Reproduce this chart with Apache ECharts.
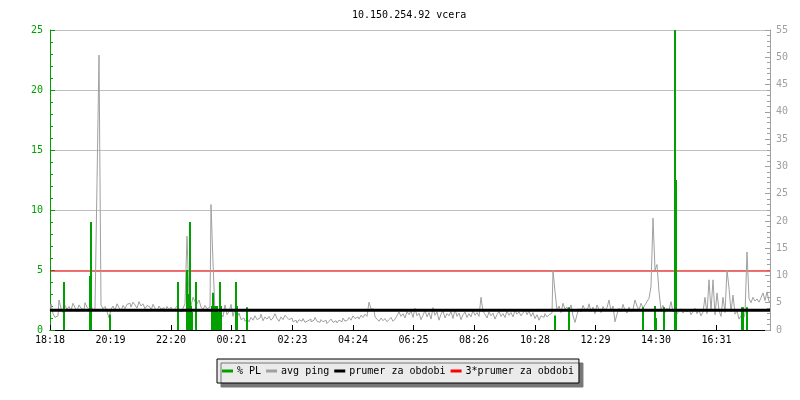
<!DOCTYPE html>
<html>
<head>
<meta charset="utf-8">
<script src="https://cdn.jsdelivr.net/npm/echarts@6/dist/echarts.min.js"></script>
<style>html,body{margin:0;padding:0;background:#fff}#c{width:800px;height:400px}</style>
</head>
<body>
<div id="c"></div>
<script>
// ---- data ----
var titleText = '10.150.254.92 vcera';
var startTime = '18:18';
var spanMinutes = 1440;
var tickLabels = ['18:18','20:19','22:20','00:21','02:23','04:24','06:25','08:26','10:28','12:29','14:30','16:31'];
// avg ping (ms, right axis), one sample every 4 minutes from 18:18
var pingStep = 4;
var pingValues = [
3.5,4.8,3.0,2.3,2.6,5.5,4.0,3.2,4.5,3.8,
4.3,3.6,4.9,4.1,3.4,4.6,4.0,3.7,5.0,4.2,
3.8,4.5,3.5,4.0,27,50.4,4.6,3.9,4.3,3.4,
2.2,3.8,4.4,3.6,4.8,4.1,3.5,4.5,3.9,4.7,
4.9,4.2,5.1,4.6,4.0,5.2,4.4,4.8,3.9,4.5,
4.2,3.6,4.7,4.0,3.5,4.4,3.8,4.1,3.4,4.3,
3.7,4.2,3.5,3.9,4.4,3.6,3.3,4.0,4.8,17.2,
5.5,4.4,6.0,5.2,4.8,5.5,4.2,3.8,4.5,3.9,
4.2,23.0,12.3,3.2,2.6,2.2,3.0,2.4,4.6,2.8,
3.4,4.7,2.5,3.9,2.3,3.1,1.9,2.2,1.6,2.0,
1.5,2.3,1.8,2.6,1.9,2.2,2.9,1.7,2.4,2.0,
2.5,1.8,2.2,3.0,2.1,1.6,2.4,1.9,2.7,2.3,
1.9,2.2,1.5,1.8,1.3,1.9,1.6,2.1,1.4,1.7,
2.0,1.5,1.8,2.3,1.6,1.4,1.9,1.5,1.8,1.2,
1.6,2.0,1.4,1.7,1.3,1.8,1.5,2.2,1.6,1.9,
2.3,1.8,2.6,2.1,2.4,2.0,2.7,2.3,2.9,2.5,
5.1,3.9,3.8,2.4,2.0,1.6,2.2,1.7,2.1,1.5,
1.9,2.3,1.6,2.0,2.6,3.3,2.5,3.0,2.2,3.4,
2.8,3.5,2.3,4.0,2.6,3.1,1.9,2.7,3.6,2.4,
3.2,2.0,4.1,2.7,3.3,1.8,2.9,3.5,2.2,3.0,
2.6,3.4,2.1,3.8,2.5,3.1,1.9,2.8,3.3,2.3,
3.0,2.4,3.6,2.7,3.2,2.5,6.0,3.4,2.9,2.2,
3.3,2.6,3.1,2.0,2.8,3.4,2.5,3.0,2.3,3.5,
2.7,3.2,2.4,3.6,2.9,3.3,2.6,3.1,3.8,2.8,
3.5,2.5,3.2,2.1,2.8,1.8,2.6,2.3,3.0,2.4,
2.8,3.1,11.0,7.0,3.6,4.4,3.2,4.9,3.8,4.2,
3.5,4.6,2.6,1.4,2.8,3.9,3.3,4.5,3.7,4.0,
4.8,3.4,4.2,3.0,4.6,3.8,3.2,4.3,3.6,4.1,
5.5,3.5,4.4,1.5,2.9,4.0,3.3,4.7,3.6,3.1,
4.2,3.4,3.8,5.5,4.4,3.6,4.9,4.0,4.6,5.2,
5.8,8.0,20.5,11.0,12.0,7.0,3.8,4.5,3.2,4.0,
3.6,5.2,3.3,4.0,2.9,3.5,3.9,3.1,3.7,3.3,
3.8,2.8,3.4,4.0,3.0,3.6,2.6,3.3,6.0,3.0,
9.2,3.5,9.2,2.8,6.8,3.6,2.5,6.0,3.2,11.0,
7.7,3.4,6.4,2.9,3.5,2.0,2.6,1.8,3.0,14.3,
5.8,5.0,6.0,5.3,5.7,5.1,5.9,6.8,5.4,7.0,5.2
];
// % packet loss (left axis): minutes after 18:18 and value
var plMinutes = [28,80,82,120,256,274,276,278,280,282,284,292,324,326,328,330,332,334,336,340,342,372,374,394,1010,1038,1186,1210,1212,1228,1250,1252,1384,1386,1394];
var plValues  = [4.0,4.5,9.0,1.3,4.0,5.0,2.0,3.0,9.0,2.0,1.5,4.0,2.0,3.1,2.0,1.5,2.0,2.0,1.5,4.0,2.0,4.0,2.0,1.9,1.2,1.9,1.9,2.0,1.0,1.9,25,12.5,1.9,1.9,1.9];
var prumer = 3.6;
var prumer3 = 10.8;
var seriesNames = ['% PL','avg ping','prumer za obdobi','3*prumer za obdobi'];
var seriesColors = ['#00a000','#a0a0a0','#000000','#ff0000'];

// ---- build ----
function toMin(t){var p=t.split(':');return +p[0]*60+ +p[1];}
var s0 = toMin(startTime);
var tickPos = tickLabels.map(function(t){var d=toMin(t)-s0; if(d<0)d+=1440; return d;});
var pingData = pingValues.map(function(v,i){return [i*pingStep, v];});
var plData = plMinutes.map(function(m,i){return [m, plValues[i]];});
var font = 'DejaVu Sans Mono';

var chart = echarts.init(document.getElementById('c'), null, {renderer:'canvas'});
chart.setOption({
  animation:false,
  backgroundColor:'#ffffff',
  title:{text:titleText,left:347,top:5,textStyle:{fontFamily:font,fontSize:10,fontWeight:'normal',color:'#000'}},
  legend:{
    left:217, top:359, orient:'horizontal',
    padding:[7,5,7,5], itemGap:5, itemWidth:11, itemHeight:3,
    backgroundColor:'#ebebeb', borderColor:'#000', borderWidth:1,
    shadowColor:'#777777', shadowBlur:0, shadowOffsetX:4, shadowOffsetY:4,
    textStyle:{fontFamily:font,fontSize:10,color:'#000',padding:[0,0,0,-1]},
    data:seriesNames.map(function(n){return {name:n,icon:'rect'};})
  },
  grid:{left:50,right:30,top:30,bottom:70,containLabel:false},
  xAxis:{
    type:'value', min:0, max:spanMinutes,
    axisLine:{show:true,lineStyle:{color:'#000',width:1}},
    axisTick:{show:true,inside:true,length:5,lineStyle:{color:'#000'},customValues:tickPos},
    axisLabel:{show:true,color:'#000',fontFamily:font,fontSize:10,margin:5,customValues:tickPos,
      formatter:function(v){var i=tickPos.indexOf(v);return i>=0?tickLabels[i]:'';}},
    splitLine:{show:false}
  },
  yAxis:[
    {type:'value',min:0,max:25,interval:5,position:'left',
     axisLine:{show:true,lineStyle:{color:'#00a000'}},
     axisTick:{show:true,inside:true,length:5,lineStyle:{color:'#00a000'}},
     minorTick:{show:true,splitNumber:5,length:3,lineStyle:{color:'#00a000'}},
     axisLabel:{color:'#00a000',fontFamily:font,fontSize:10,margin:7},
     splitLine:{show:true,lineStyle:{color:'#c0c0c0',width:1}}},
    {type:'value',min:0,max:55,interval:5,position:'right',
     axisLine:{show:true,lineStyle:{color:'#a0a0a0'}},
     axisTick:{show:true,inside:true,length:5,lineStyle:{color:'#a0a0a0'}},
     minorTick:{show:true,splitNumber:5,length:3,lineStyle:{color:'#a0a0a0'}},
     axisLabel:{color:'#a0a0a0',fontFamily:font,fontSize:10,margin:6},
     splitLine:{show:false}}
  ],
  series:[
    {name:seriesNames[3],type:'line',yAxisIndex:1,z:2,symbol:'none',silent:true,
     itemStyle:{color:seriesColors[3]},lineStyle:{color:seriesColors[3],width:1},
     data:[[0,prumer3],[spanMinutes,prumer3]]},
    {name:seriesNames[1],type:'line',yAxisIndex:1,z:3,symbol:'none',step:'middle',
     itemStyle:{color:seriesColors[1]},lineStyle:{color:seriesColors[1],width:1},
     data:pingData},
    {name:seriesNames[0],type:'bar',yAxisIndex:0,z:4,barWidth:2,
     itemStyle:{color:seriesColors[0]},data:plData},
    {name:seriesNames[2],type:'line',yAxisIndex:1,z:5,symbol:'none',
     itemStyle:{color:seriesColors[2]},lineStyle:{color:seriesColors[2],width:3},
     data:[[0,prumer],[spanMinutes,prumer]]}
  ]
});
</script>
</body>
</html>
